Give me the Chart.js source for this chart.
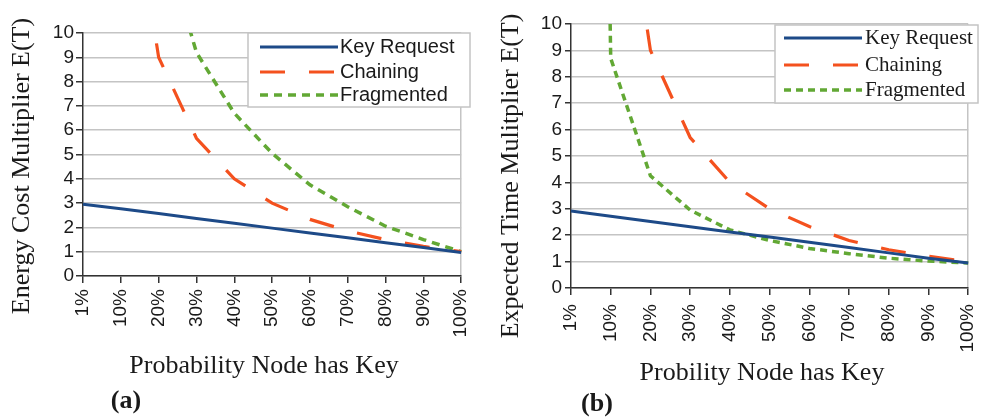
<!DOCTYPE html>
<html>
<head>
<meta charset="utf-8">
<title>E(T) vs probability node has key</title>
<script src="https://cdn.jsdelivr.net/npm/chart.js@4.4.1/dist/chart.umd.min.js"></script>
<style>
  html, body { margin: 0; padding: 0; background: #fff; overflow: hidden; }
  #wrap { position: relative; width: 985px; height: 418px; overflow: hidden; }
  canvas { position: absolute; top: 0; }
  #chartA { left: 0; }
  #chartB { left: 490px; }
</style>
</head>
<body>
<div id="wrap">
  <canvas id="chartA" width="490" height="418"></canvas>
  <canvas id="chartB" width="510" height="418"></canvas>
</div>
<script>
// x categories shared by both panels
const probabilityLabels = ['1%', '10%', '20%', '30%', '40%', '50%', '60%', '70%', '80%', '90%', '100%'];

// (a) energy cost multiplier
const energyKeyRequest = [2.95, 2.77, 2.57, 2.37, 2.17, 1.97, 1.77, 1.57, 1.37, 1.17, 0.97];
const energyChaining   = [199, 19, 9, 5.67, 4, 3, 2.33, 1.86, 1.5, 1.22, 1];
const energyFragmented = [60, 30, 14.5, 9.2, 6.7, 5.05, 3.75, 2.85, 2.05, 1.5, 1];

// (b) expected time multiplier
const timeKeyRequest = [2.92, 2.72, 2.52, 2.32, 2.12, 1.93, 1.73, 1.53, 1.33, 1.13, 0.95];
const timeChaining   = [199, 19, 9, 5.7, 4, 3, 2.33, 1.8, 1.45, 1.2, 1];
const timeFragmented = [100, 8.7, 4.25, 2.95, 2.2, 1.8, 1.5, 1.3, 1.13, 1.02, 0.95];

const KEY_COLOR = '#1d4a88';
const CHAIN_COLOR = '#f4511e';
const FRAG_COLOR = '#62a834';
const GRID_COLOR = '#c4c4c4';
const AXIS_COLOR = '#333';
const SANS = "'Liberation Sans', Arial, sans-serif";
const SERIF = "'Liberation Serif', 'Times New Roman', serif";

// legend box drawn inside the plot, top right
function boxLegend(spec) {
  return {
    id: 'boxLegend',
    afterDraw(chart) {
      const ctx = chart.ctx;
      ctx.save();
      ctx.fillStyle = '#fff';
      ctx.fillRect(spec.x, spec.y, spec.w, spec.h);
      ctx.strokeStyle = GRID_COLOR;
      ctx.lineWidth = 1.5;
      ctx.strokeRect(spec.x, spec.y, spec.w, spec.h);
      ctx.font = spec.font;
      ctx.textBaseline = 'middle';
      ctx.textAlign = 'left';
      chart.data.datasets.forEach((ds, i) => {
        const y = spec.rows[i];
        ctx.strokeStyle = ds.borderColor;
        ctx.lineWidth = ds.borderWidth;
        ctx.setLineDash(ds.borderDash || []);
        ctx.beginPath();
        ctx.moveTo(spec.lineX0, y);
        ctx.lineTo(spec.lineX1, y);
        ctx.stroke();
        ctx.setLineDash([]);
        ctx.fillStyle = '#1a1a1a';
        ctx.fillText(ds.label, spec.textX, y);
      });
      ctx.restore();
    }
  };
}

// axis titles and panel tag
function captions(spec) {
  return {
    id: 'captions',
    afterDraw(chart) {
      const ctx = chart.ctx;
      ctx.save();
      ctx.fillStyle = '#1a1a1a';
      ctx.textAlign = 'center';
      ctx.textBaseline = 'middle';
      ctx.font = '26px ' + SERIF;
      ctx.save();
      ctx.translate(spec.yTitle.x, spec.yTitle.y);
      ctx.rotate(-Math.PI / 2);
      ctx.fillText(spec.yTitle.text, 0, 0);
      ctx.restore();
      ctx.textBaseline = 'alphabetic';
      ctx.fillText(spec.xTitle.text, spec.xTitle.x, spec.xTitle.y);
      ctx.font = 'bold 26px ' + SERIF;
      ctx.textBaseline = 'middle';
      ctx.fillText(spec.tag.text, spec.tag.x, spec.tag.y);
      ctx.restore();
    }
  };
}

function buildChart(id, cfg) {
  const lastIndex = probabilityLabels.length - 1;
  return new Chart(document.getElementById(id), {
    type: 'line',
    data: {
      labels: probabilityLabels,
      datasets: [
        { label: 'Key Request', data: cfg.keyRequest, borderColor: KEY_COLOR, borderWidth: 3 },
        { label: 'Chaining', data: cfg.chaining, borderColor: CHAIN_COLOR, borderWidth: 3.2,
          borderDash: [25, 24] },
        { label: 'Fragmented', data: cfg.fragmented, borderColor: FRAG_COLOR, borderWidth: 3.5,
          borderDash: cfg.fragDash }
      ]
    },
    options: {
      responsive: false,
      animation: false,
      devicePixelRatio: 1,
      layout: { padding: cfg.padding },
      elements: { point: { radius: 0 }, line: { tension: 0 } },
      plugins: { legend: { display: false }, tooltip: { enabled: false } },
      scales: {
        x: {
          grid: {
            drawOnChartArea: true,
            color: c => (c.index === lastIndex ? GRID_COLOR : 'transparent'),
            lineWidth: 1.5,
            tickColor: AXIS_COLOR,
            tickLength: 7,
            tickWidth: 1.5
          },
          border: { color: AXIS_COLOR, width: 1.5 },
          ticks: {
            autoSkip: false, minRotation: 90, maxRotation: 90,
            padding: cfg.xTickPad, color: '#1a1a1a',
            font: { family: SANS, size: 19 }
          },
          afterFit(scale) { scale.height = cfg.xHeight; }
        },
        y: {
          min: 0, max: 10,
          grid: { color: GRID_COLOR, lineWidth: 1.5, tickColor: AXIS_COLOR, tickLength: cfg.yTickLen, tickWidth: 1.5 },
          border: { color: AXIS_COLOR, width: 1.5 },
          ticks: {
            stepSize: 1, autoSkip: false, padding: cfg.yTickPad, color: '#1a1a1a',
            font: { family: SANS, size: 19, lineHeight: 1 }
          },
          afterFit(scale) { scale.width = cfg.yWidth; }
        }
      }
    },
    plugins: [boxLegend(cfg.legend), captions(cfg.captions)]
  });
}

buildChart('chartA', {
  keyRequest: energyKeyRequest,
  chaining: energyChaining,
  fragmented: energyFragmented,
  fragDash: [8, 6],
  padding: { left: 0, top: 33, right: 19, bottom: 0 },
  xHeight: 142, yWidth: 83, xTickPad: 6, yTickLen: 7, yTickPad: 2,
  legend: { x: 248, y: 33, w: 222, h: 74, rows: [47, 72, 95], lineX0: 260, lineX1: 338, textX: 340,
            font: '20px ' + SANS },
  captions: {
    yTitle: { text: 'Energy Cost Multiplier E(T)', x: 22, y: 166 },
    xTitle: { text: 'Probability Node has Key', x: 264, y: 373 },
    tag: { text: '(a)', x: 126, y: 401 }
  }
});

buildChart('chartB', {
  keyRequest: timeKeyRequest,
  chaining: timeChaining,
  fragmented: timeFragmented,
  fragDash: [7, 5],
  padding: { left: 0, top: 24, right: 21, bottom: 0 },
  xHeight: 130, yWidth: 81, xTickPad: 9, yTickLen: 6, yTickPad: 3,
  legend: { x: 285, y: 25, w: 203, h: 78, rows: [38, 65, 90], lineX0: 294, lineX1: 372, textX: 375,
            font: '21px ' + SERIF },
  captions: {
    yTitle: { text: 'Expected Time Mulitplier E(T)', x: 21, y: 176 },
    xTitle: { text: 'Probility Node has Key', x: 272, y: 380 },
    tag: { text: '(b)', x: 107, y: 404 }
  }
});
</script>
</body>
</html>
